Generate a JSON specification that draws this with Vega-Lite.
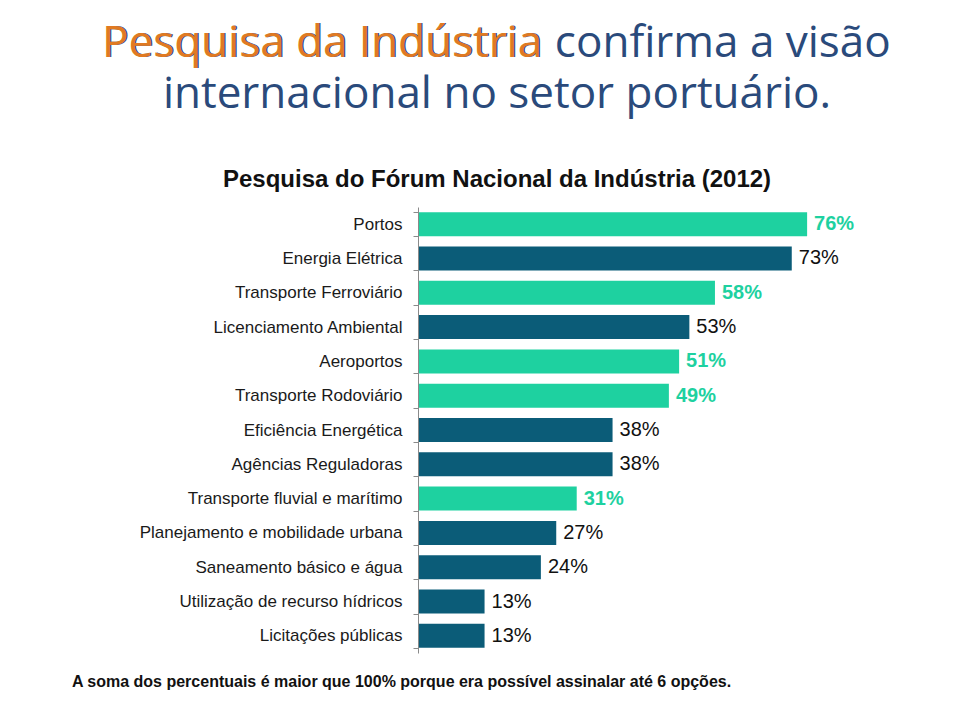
{
  "$schema": "https://vega.github.io/schema/vega-lite/v6.json",
  "width": 512,
  "height": 446,
  "autosize": {"type": "none"},
  "padding": {"left": 418, "top": 207, "right": 30, "bottom": 63},
  "background": "white",
  "title": {
    "text": ["Pesquisa da Indústria confirma a visão", "internacional no setor portuário."],
    "subtitle": "Pesquisa do Fórum Nacional da Indústria (2012)",
    "anchor": "middle",
    "frame": "group",
    "dx": -177,
    "offset": -170.5,
    "zindex": 0,
    "font": "Open Sans",
    "fontSize": 44,
    "fontWeight": "normal",
    "color": "#2A4A7B",
    "lineHeight": 51,
    "subtitleFont": "Liberation Sans",
    "subtitleFontSize": 24,
    "subtitleFontWeight": "bold",
    "subtitleColor": "#111111",
    "subtitlePadding": 51
  },
  "data": {
    "values": [
      {"item": "Portos", "pct": 76, "group": "transporte", "label": "76%"},
      {"item": "Energia Elétrica", "pct": 73, "group": "outros", "label": "73%"},
      {"item": "Transporte Ferroviário", "pct": 58, "group": "transporte", "label": "58%"},
      {"item": "Licenciamento Ambiental", "pct": 53, "group": "outros", "label": "53%"},
      {"item": "Aeroportos", "pct": 51, "group": "transporte", "label": "51%"},
      {"item": "Transporte Rodoviário", "pct": 49, "group": "transporte", "label": "49%"},
      {"item": "Eficiência Energética", "pct": 38, "group": "outros", "label": "38%"},
      {"item": "Agências Reguladoras", "pct": 38, "group": "outros", "label": "38%"},
      {"item": "Transporte fluvial e marítimo", "pct": 31, "group": "transporte", "label": "31%"},
      {"item": "Planejamento e mobilidade urbana", "pct": 27, "group": "outros", "label": "27%"},
      {"item": "Saneamento básico e água", "pct": 24, "group": "outros", "label": "24%"},
      {"item": "Utilização de recurso hídricos", "pct": 13, "group": "outros", "label": "13%"},
      {"item": "Licitações públicas", "pct": 13, "group": "outros", "label": "13%"}
    ]
  },
  "encoding": {
    "y": {
      "field": "item",
      "type": "nominal",
      "sort": null,
      "scale": {"paddingInner": 0.3, "paddingOuter": 0.15},
      "axis": {
        "zindex": 2,
        "title": "Pesquisa da Indústria",
        "titleColor": "#E07A22",
        "titleFont": "Open Sans",
        "titleFontSize": 44,
        "titleFontWeight": "normal",
        "titleAngle": 0,
        "titleAlign": "left",
        "titleBaseline": "alphabetic",
        "titleX": -316.5,
        "titleY": -151,
        "labelFont": "Liberation Sans",
        "labelFontSize": 17,
        "labelColor": "#1a1a1a",
        "labelPadding": 11,
        "labelLimit": 400,
        "tickSize": 5,
        "tickBand": "extent",
        "tickColor": "#8a8a8a",
        "domainColor": "#8a8a8a",
        "grid": false
      }
    },
    "x": {
      "field": "pct",
      "type": "quantitative",
      "scale": {"domain": [0, 100]},
      "axis": {
        "title": "A soma dos percentuais é maior que 100% porque era possível assinalar até 6 opções.",
        "titleFont": "Liberation Sans",
        "titleFontSize": 16,
        "titleFontWeight": "bold",
        "titleColor": "#111111",
        "titleAlign": "center",
        "titleBaseline": "alphabetic",
        "titleX": -17,
        "titleY": 33,
        "labels": false,
        "ticks": false,
        "domain": false,
        "grid": false
      }
    }
  },
  "layer": [
    {
      "mark": {"type": "bar"},
      "encoding": {
        "color": {
          "field": "group",
          "type": "nominal",
          "scale": {"domain": ["transporte", "outros"], "range": ["#1ED1A0", "#0B5C78"]},
          "legend": null
        }
      }
    },
    {
      "transform": [{"filter": "datum.group === 'transporte'"}],
      "mark": {"type": "text", "align": "left", "baseline": "middle", "dx": 7, "font": "Liberation Sans", "fontSize": 20, "fontWeight": "bold", "color": "#1ED1A0"},
      "encoding": {"text": {"field": "label"}}
    },
    {
      "transform": [{"filter": "datum.group === 'outros'"}],
      "mark": {"type": "text", "align": "left", "baseline": "middle", "dx": 7, "font": "Liberation Sans", "fontSize": 20, "fontWeight": "normal", "color": "#111111"},
      "encoding": {"text": {"field": "label"}}
    }
  ],
  "config": {"view": {"stroke": null}}
}
